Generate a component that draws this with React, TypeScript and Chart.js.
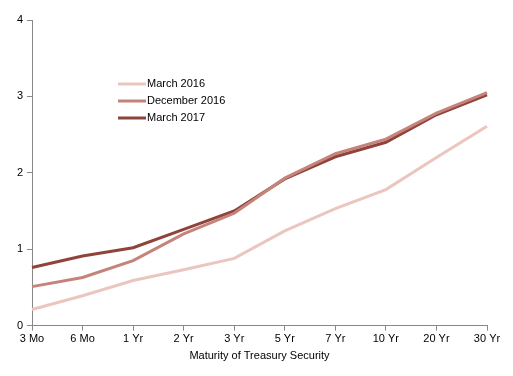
import React, { useEffect, useRef } from "react";
import { Chart, registerables } from "chart.js";

Chart.register(...registerables);

const categories = ["3 Mo", "6 Mo", "1 Yr", "2 Yr", "3 Yr", "5 Yr", "7 Yr", "10 Yr", "20 Yr", "30 Yr"];
const march2016 = [0.21, 0.39, 0.59, 0.73, 0.88, 1.24, 1.53, 1.78, 2.2, 2.61];
const december2016 = [0.51, 0.63, 0.85, 1.2, 1.47, 1.93, 2.25, 2.44, 2.78, 3.05];
const march2017 = [0.76, 0.91, 1.02, 1.26, 1.5, 1.92, 2.21, 2.4, 2.76, 3.02];
const seriesLabels = ["March 2016", "December 2016", "March 2017"];
const seriesColors = ["#ebc6be", "#c4837b", "#8e433b"];
const xTitle = "Maturity of Treasury Security";

const FONT = "'Liberation Sans', Arial, sans-serif";

const insideLegend = {
  id: "insideLegend",
  afterDraw(chart: any) {
    const ctx = chart.ctx;
    const x0 = 118;
    const x1 = 146;
    const ys = [84, 101, 118];
    ctx.save();
    chart.data.datasets.forEach((ds: any, i: number) => {
      ctx.strokeStyle = ds.borderColor;
      ctx.lineWidth = 3;
      ctx.beginPath();
      ctx.moveTo(x0, ys[i]);
      ctx.lineTo(x1, ys[i]);
      ctx.stroke();
      ctx.fillStyle = "#000";
      ctx.font = `11px ${FONT}`;
      ctx.textBaseline = "middle";
      ctx.textAlign = "left";
      ctx.fillText(ds.label, x1 + 1, ys[i]);
    });
    ctx.restore();
  },
};

export default function App() {
  const ref = useRef<HTMLCanvasElement>(null);
  useEffect(() => {
    if (!ref.current) return;
    const data = [march2016, december2016, march2017];
    const chart = new Chart(ref.current, {
      type: "line",
      data: {
        labels: categories,
        datasets: data.map((d, i) => ({
          label: seriesLabels[i],
          data: d,
          borderColor: seriesColors[i],
          backgroundColor: seriesColors[i],
          borderWidth: 3,
          pointRadius: 0,
          tension: 0,
        })),
      },
      options: {
        animation: false,
        responsive: false,
        maintainAspectRatio: false,
        layout: { padding: { left: 0, right: 26, top: 20, bottom: 13 } },
        plugins: { legend: { display: false }, tooltip: { enabled: false } },
        scales: {
          x: {
            offset: false,
            grid: {
              display: true,
              drawOnChartArea: false,
              drawTicks: true,
              tickLength: 5,
              color: "#888",
            },
            border: { color: "#888", width: 1 },
            ticks: {
              color: "#000",
              font: { family: FONT, size: 11 },
              maxRotation: 0,
              autoSkip: false,
              padding: 2,
            },
            title: {
              display: true,
              text: xTitle,
              color: "#000",
              font: { family: FONT, size: 11 },
              padding: { top: 2, bottom: 0 },
            },
          },
          y: {
            min: 0,
            max: 4,
            grid: {
              display: true,
              drawOnChartArea: false,
              drawTicks: true,
              tickLength: 5,
              color: "#888",
            },
            border: { color: "#888", width: 1 },
            ticks: {
              stepSize: 1,
              color: "#000",
              font: { family: FONT, size: 11 },
              padding: 4,
            },
            afterFit: (scale: any) => {
              scale.width = 32;
            },
          },
        },
      },
      plugins: [insideLegend],
    });
    return () => chart.destroy();
  }, []);
  return (
    <div style={{ position: "fixed", left: 0, top: 0, width: 513, height: 376, background: "#fff" }}>
      <canvas ref={ref} width={513} height={376} style={{ width: 513, height: 376, display: "block" }} />
    </div>
  );
}
